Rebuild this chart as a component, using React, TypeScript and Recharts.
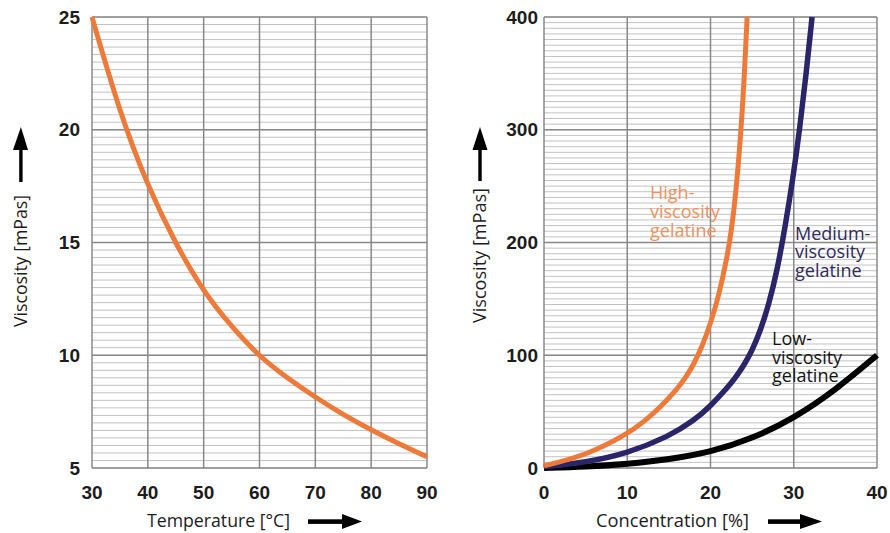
import React from 'react';
import { LineChart, Line, XAxis, YAxis, CartesianGrid } from 'recharts';

// ---------- Left chart: viscosity vs temperature ----------
const tempTicks = [30, 40, 50, 60, 70, 80, 90];
const viscTicksLeft = [5, 10, 15, 20, 25];
const temperature = [30, 35, 40, 45, 50, 55, 60, 65, 70, 75, 80, 85, 90];
const viscosityByTemp = [25, 20.9, 17.6, 15.0, 12.9, 11.3, 10.0, 9.0, 8.15, 7.38, 6.7, 6.08, 5.5];

// ---------- Right chart: viscosity vs concentration ----------
const concTicks = [0, 10, 20, 30, 40];
const viscTicksRight = [0, 100, 200, 300, 400];

const highConc = [0, 5, 10, 12, 14, 16, 17, 18, 19, 20, 21, 22, 22.5, 23, 23.6, 24, 24.4];
const highVisc = [2, 11, 30, 41, 54, 70, 80, 92, 108, 128, 153, 187, 210, 240, 292, 338, 400];

const mediumConc = [0, 5, 10, 15, 18, 20, 22, 23, 24, 25, 26, 27, 28, 29, 30, 30.7, 31.5, 32.2];
const mediumVisc = [1, 5, 13, 28, 42, 55, 71, 80, 91, 104, 122, 145, 175, 215, 262, 300, 350, 400];

const lowConc = [0, 5, 10, 15, 20, 25, 30, 35, 40];
const lowVisc = [0, 1, 3.5, 7.5, 14, 26, 44, 69, 100];

const leftMinorStep = 1 / 3;
const rightMinorStep = 5;

const range = (a: number, b: number, s: number) => {
  const out: number[] = [];
  const n = Math.round((b - a) / s);
  for (let i = 0; i <= n; i++) out.push(a + i * s);
  return out;
};
const leftMinor = range(5, 25, leftMinorStep);
const rightMinor = range(0, 400, rightMinorStep);

const leftData = temperature.map((t, i) => ({ x: t, y: viscosityByTemp[i] }));
const highData = highConc.map((c, i) => ({ x: c, y: highVisc[i] }));
const mediumData = mediumConc.map((c, i) => ({ x: c, y: mediumVisc[i] }));
const lowData = lowConc.map((c, i) => ({ x: c, y: lowVisc[i] }));

const tickStyle = {
  fontFamily: '"Liberation Sans", Arial, sans-serif',
  fontWeight: 700,
  fontSize: 19,
  fill: '#1c1c1c',
};

const MINOR = '#c2c2c2';
const MAJOR = '#888888';
const ORANGE = '#ee7a3a';
const NAVY = '#2a2468';

const labelFont = '"Open Sans", "Noto Sans", sans-serif';

export default function App() {
  return (
    <div style={{ position: 'absolute', left: 0, top: 0, width: 890, height: 533, background: '#fff', overflow: 'hidden' }}>
      <div style={{ position: 'absolute', left: 0, top: 0 }}>
        <LineChart width={445} height={533} data={leftData} margin={{ top: 17, right: 18, bottom: 35, left: 32 }}>
          <CartesianGrid horizontalValues={leftMinor} vertical={false} stroke={MINOR} strokeWidth={1} />
          <CartesianGrid horizontalValues={viscTicksLeft} verticalValues={tempTicks} stroke={MAJOR} strokeWidth={1.5} />
          <XAxis
            type="number"
            dataKey="x"
            domain={[30, 90]}
            ticks={tempTicks}
            interval={0}
            axisLine={false}
            tickLine={false}
            tickSize={0}
            tickMargin={18}
            height={30}
            tick={tickStyle}
          />
          <YAxis
            type="number"
            domain={[5, 25]}
            ticks={viscTicksLeft}
            interval={0}
            axisLine={false}
            tickLine={false}
            tickSize={0}
            tickMargin={12}
            width={60}
            tick={tickStyle}
          />
          <Line dataKey="y" type="natural" stroke={ORANGE} strokeWidth={5} dot={false} isAnimationActive={false} />
        </LineChart>
      </div>

      <div style={{ position: 'absolute', left: 445, top: 0 }}>
        <LineChart width={445} height={533} margin={{ top: 17, right: 13, bottom: 35, left: 39 }}>
          <CartesianGrid horizontalValues={rightMinor} vertical={false} stroke={MINOR} strokeWidth={1} />
          <CartesianGrid horizontalValues={viscTicksRight} verticalValues={concTicks} stroke={MAJOR} strokeWidth={1.5} />
          <XAxis
            type="number"
            dataKey="x"
            domain={[0, 40]}
            ticks={concTicks}
            interval={0}
            axisLine={false}
            tickLine={false}
            tickSize={0}
            tickMargin={18}
            height={30}
            tick={tickStyle}
          />
          <YAxis
            type="number"
            domain={[0, 400]}
            ticks={viscTicksRight}
            interval={0}
            axisLine={false}
            tickLine={false}
            tickSize={0}
            tickMargin={6}
            width={60}
            tick={tickStyle}
          />
          <Line data={lowData} dataKey="y" type="basis" stroke="#000" strokeWidth={6} dot={false} isAnimationActive={false} />
          <Line data={mediumData} dataKey="y" type="basis" stroke={NAVY} strokeWidth={5.5} dot={false} isAnimationActive={false} />
          <Line data={highData} dataKey="y" type="basis" stroke={ORANGE} strokeWidth={5} dot={false} isAnimationActive={false} />
        </LineChart>
      </div>

      <svg width={890} height={533} style={{ position: 'absolute', left: 0, top: 0, pointerEvents: 'none' }}>
        {/* Left Y title */}
        <text transform="translate(27,261) rotate(-90)" textAnchor="middle" fontFamily={labelFont} fontSize={18} fill="#1c1c1c" textLength={132} lengthAdjust="spacingAndGlyphs">
          Viscosity [mPas]
        </text>
        <rect x={19.2} y={146} width={3.4} height={36} fill="#000" />
        <polygon points="13,150 28,150 20.9,127" fill="#000" />

        {/* Right Y title */}
        <text transform="translate(486,255.5) rotate(-90)" textAnchor="middle" fontFamily={labelFont} fontSize={18} fill="#1c1c1c" textLength={135} lengthAdjust="spacingAndGlyphs">
          Viscosity [mPas]
        </text>
        <rect x={478.3} y={146} width={3.4} height={35} fill="#000" />
        <polygon points="472.5,150 487.5,150 480,127" fill="#000" />

        {/* Left X title */}
        <text x={147} y={527} fontFamily={labelFont} fontSize={18} fill="#1c1c1c" textLength={143} lengthAdjust="spacingAndGlyphs">
          Temperature [°C]
        </text>
        <rect x={308} y={519.3} width={36} height={4.6} fill="#000" />
        <polygon points="342,514 342,529 362,521.6" fill="#000" />

        {/* Right X title */}
        <text x={596} y={527} fontFamily={labelFont} fontSize={18} fill="#1c1c1c" textLength={153} lengthAdjust="spacingAndGlyphs">
          Concentration [%]
        </text>
        <rect x={768} y={519.3} width={34} height={4.6} fill="#000" />
        <polygon points="800,514 800,529 822,521.6" fill="#000" />

        {/* Series labels */}
        <text fontFamily={labelFont} fontSize={18} fill="#ec9160">
          <tspan x={650} y={199}>High-</tspan>
          <tspan x={650} y={218}>viscosity</tspan>
          <tspan x={650} y={237}>gelatine</tspan>
        </text>
        <text fontFamily={labelFont} fontSize={18} fill="#2f2b5c">
          <tspan x={795} y={239.5}>Medium-</tspan>
          <tspan x={795} y={258}>viscosity</tspan>
          <tspan x={795} y={276.5}>gelatine</tspan>
        </text>
        <text fontFamily={labelFont} fontSize={18} fill="#141414">
          <tspan x={772} y={345}>Low-</tspan>
          <tspan x={772} y={363.5}>viscosity</tspan>
          <tspan x={772} y={382}>gelatine</tspan>
        </text>
      </svg>
    </div>
  );
}
